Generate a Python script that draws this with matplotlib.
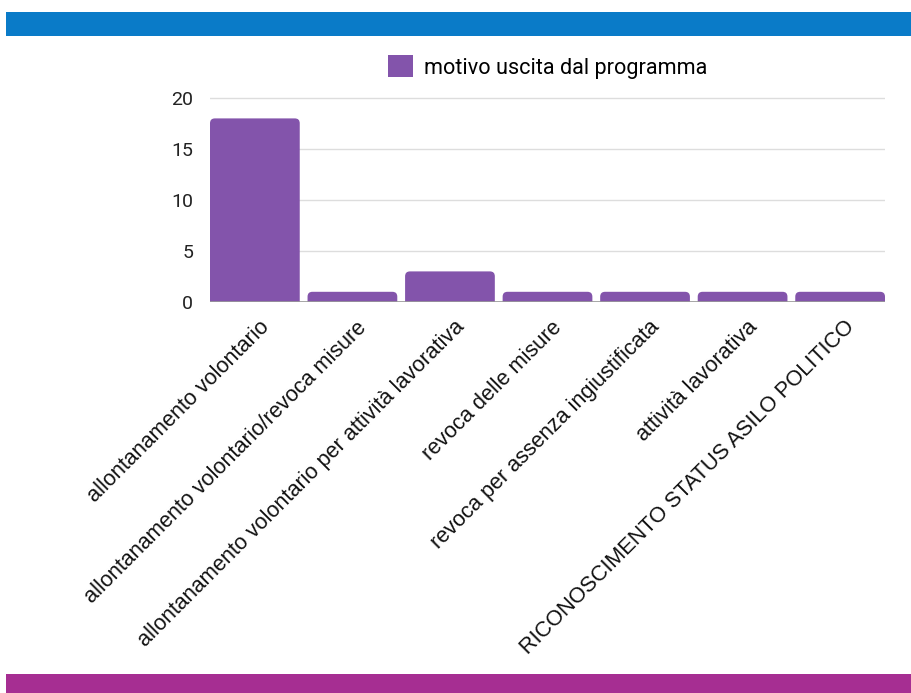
from matplotlib import pyplot as plt
from matplotlib.patches import Rectangle, FancyBboxPatch
import matplotlib.transforms as mtransforms

plt.rcParams['font.family'] = ['Liberation Sans', 'DejaVu Sans']

categories = [
    "allontanamento volontario",
    "allontanamento volontario/revoca misure",
    "allontanamento volontario per attività lavorativa",
    "revoca delle misure",
    "revoca per assenza ingiustificata",
    "attività lavorativa",
    "RICONOSCIMENTO STATUS ASILO POLITICO",
]
values = [18, 1, 3, 1, 1, 1, 1]
series_name = "motivo uscita dal programma"
yticks = [0, 5, 10, 15, 20]

bar_color = "#8354ab"

fig = plt.figure(figsize=(9.11, 6.93), dpi=100)
W, H = 911, 693

# header / footer bands
fig.patches.append(Rectangle((6 / W, 1 - 36 / H), 1, 24 / H, transform=fig.transFigure,
                             facecolor="#0a7bc8", edgecolor="none", zorder=0))
fig.patches.append(Rectangle((6 / W, 0), 1, 19 / H, transform=fig.transFigure,
                             facecolor="#a62e92", edgecolor="none", zorder=0))

# axes: x 210..885 px, y 0 at 302 px, 20 at 98 px
ymax = 20.3
px_per_unit = (302 - 98) / 20
top_px = 302 - ymax * px_per_unit
ax_h = 302 - top_px
ax = fig.add_axes([210 / W, 1 - 302 / H, 675 / W, ax_h / H])

x = list(range(len(categories)))
bars = ax.bar(x, values, width=0.92, color=bar_color, zorder=3, label=series_name)
ax.set_xlim(-0.46, len(categories) - 0.54)
ax.set_ylim(0, ymax)

# rounded tops: swap each bar for a rounded box (bottom hidden below 0)
x_px = 675 / (len(categories) - 0.08)
aspect = x_px / px_per_unit
for b in bars:
    b.set_visible(False)
    rb = FancyBboxPatch((b.get_x(), -1), b.get_width(), b.get_height() + 1,
                        boxstyle="round,pad=0,rounding_size=0.05",
                        mutation_aspect=aspect, facecolor=bar_color,
                        edgecolor="none", zorder=3)
    ax.add_patch(rb)

ax.set_yticks(yticks)
ax.set_yticklabels([str(t) for t in yticks], fontsize=14, color="#222222",
                   family=['Roboto', 'DejaVu Sans'])
ax.yaxis.grid(True, color="#dddddd", linewidth=1, zorder=0)
ax.set_axisbelow(True)
for s in ax.spines.values():
    s.set_visible(False)
ax.axhline(0, color="#999999", linewidth=1.2, zorder=4)
ax.tick_params(axis='both', length=0)
ax.tick_params(axis='y', pad=12)

ax.set_xticks(x)
ax.set_xticklabels(categories, rotation=45, ha='right', rotation_mode='anchor',
                   fontsize=15.6, color="#111111")
offset = mtransforms.ScaledTranslation(4 / 100, -10 / 100, fig.dpi_scale_trans)
for lab in ax.get_xticklabels():
    lab.set_transform(lab.get_transform() + offset)

leg = ax.legend(handles=[Rectangle((0, 0), 1, 1, facecolor=bar_color)], labels=[series_name],
                loc='center', bbox_to_anchor=(0.5, (302 - 67) / ax_h), frameon=False,
                prop={'family': ['Roboto', 'DejaVu Sans'], 'size': 15.6},
                handlelength=1.15, handleheight=1.15, handletextpad=0.5)

fig.savefig("out.png", dpi=100)
